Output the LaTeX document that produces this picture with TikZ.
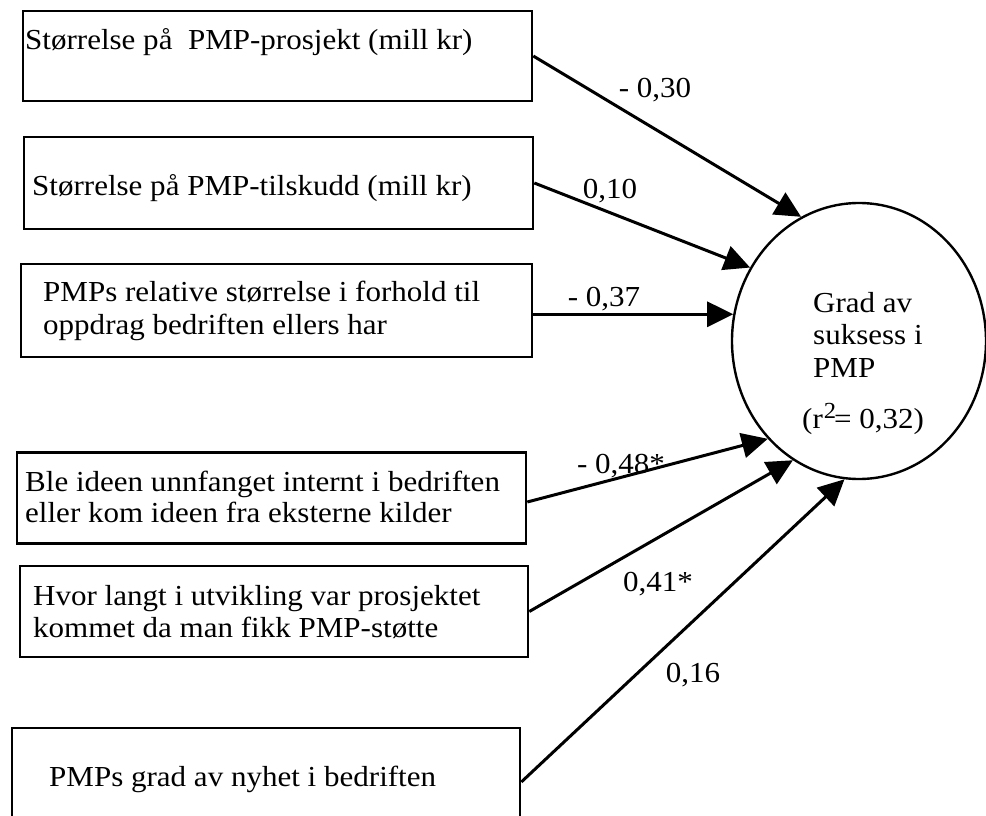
\documentclass[tikz,border=0pt]{standalone}
\usepackage{fontspec}
\setmainfont{Liberation Serif}[FakeStretch=1.07]
\usetikzlibrary{arrows.meta,shapes.geometric}
\begin{document}
\begin{tikzpicture}[x=1pt,y=-1pt,
  box/.style={draw, line width=2.6pt, inner sep=0pt, rectangle},
  txt/.style={font=\fontsize{29}{32}\selectfont, inner sep=0pt, anchor=base west},
  coef/.style={font=\fontsize{29}{32}\selectfont, inner sep=0pt, anchor=base},
  effect/.style={line width=3pt, -{Triangle[length=26pt,width=25pt]}}]
\useasboundingbox (0,0) rectangle (986,816);
\fill[white] (0,0) rectangle (986,816);

% explanatory variables
\node[box, minimum width=509pt, minimum height=90pt]  (b1) at (277.5,56)  {};
\node[box, minimum width=509pt, minimum height=92pt]  (b2) at (278.5,183) {};
\node[box, minimum width=511pt, minimum height=93pt]  (b3) at (276.5,310.5) {};
\node[box, minimum width=509pt, minimum height=91pt]  (b4) at (271.5,498) {};
\node[box, minimum width=508pt, minimum height=91pt]  (b5) at (274,611.5) {};
\node[box, minimum width=508pt, minimum height=108pt] (b6) at (266,782) {};

\node[txt] (t1)  at (25,50)  {Størrelse på\ \ PMP-prosjekt (mill kr)};
\node[txt] (t2)  at (32,195) {Størrelse på PMP-tilskudd (mill kr)};
\node[txt] (t3a) at (43,301) {PMPs relative størrelse i forhold til};
\node[txt] (t3b) at (43,334) {oppdrag bedriften ellers har};
\node[txt] (t4a) at (25,491) {Ble ideen unnfanget internt i bedriften};
\node[txt] (t4b) at (25,522) {eller kom ideen fra eksterne kilder};
\node[txt] (t5a) at (33,605) {Hvor langt i utvikling var prosjektet};
\node[txt] (t5b) at (33,637) {kommet da man fikk PMP-støtte};
\node[txt] (t6)  at (49,786) {PMPs grad av nyhet i bedriften};

% dependent variable
\node[draw, ellipse, line width=2.4pt, inner sep=0pt,
      minimum width=254pt, minimum height=276pt] (circ) at (859,341) {};
\node[txt] (c1) at (813,312) {Grad av};
\node[txt] (c2) at (813,344) {suksess i};
\node[txt] (c3) at (813,377) {PMP};
\node[txt] (c4) at (802,428) {(r\kern1pt\raisebox{10pt}{\fontsize{23}{23}\selectfont 2}\kern-2pt= 0,32)};

% path coefficients
\draw[effect] (b1.east) -- (circ.115);
\draw[effect] (b2.east) -- (circ.146);
\draw[effect] (b3.east |- circ.168) -- (circ.168);
\draw[effect] ([yshift=-4pt]b4.east) -- (circ.227);
\draw[effect] (b5.east) -- (circ.241);
\draw[effect] (b6.east) -- (circ.264);

\node[coef] (l1) at (655,97)  {- 0,30};
\node[coef] (l2) at (610,198) {0,10};
\node[coef] (l3) at (604,306) {- 0,37};
\node[coef] (l4) at (621,473) {- 0,48*};
\node[coef] (l5) at (658,591) {0,41*};
\node[coef] (l6) at (693,682) {0,16};
\end{tikzpicture}
\end{document}
